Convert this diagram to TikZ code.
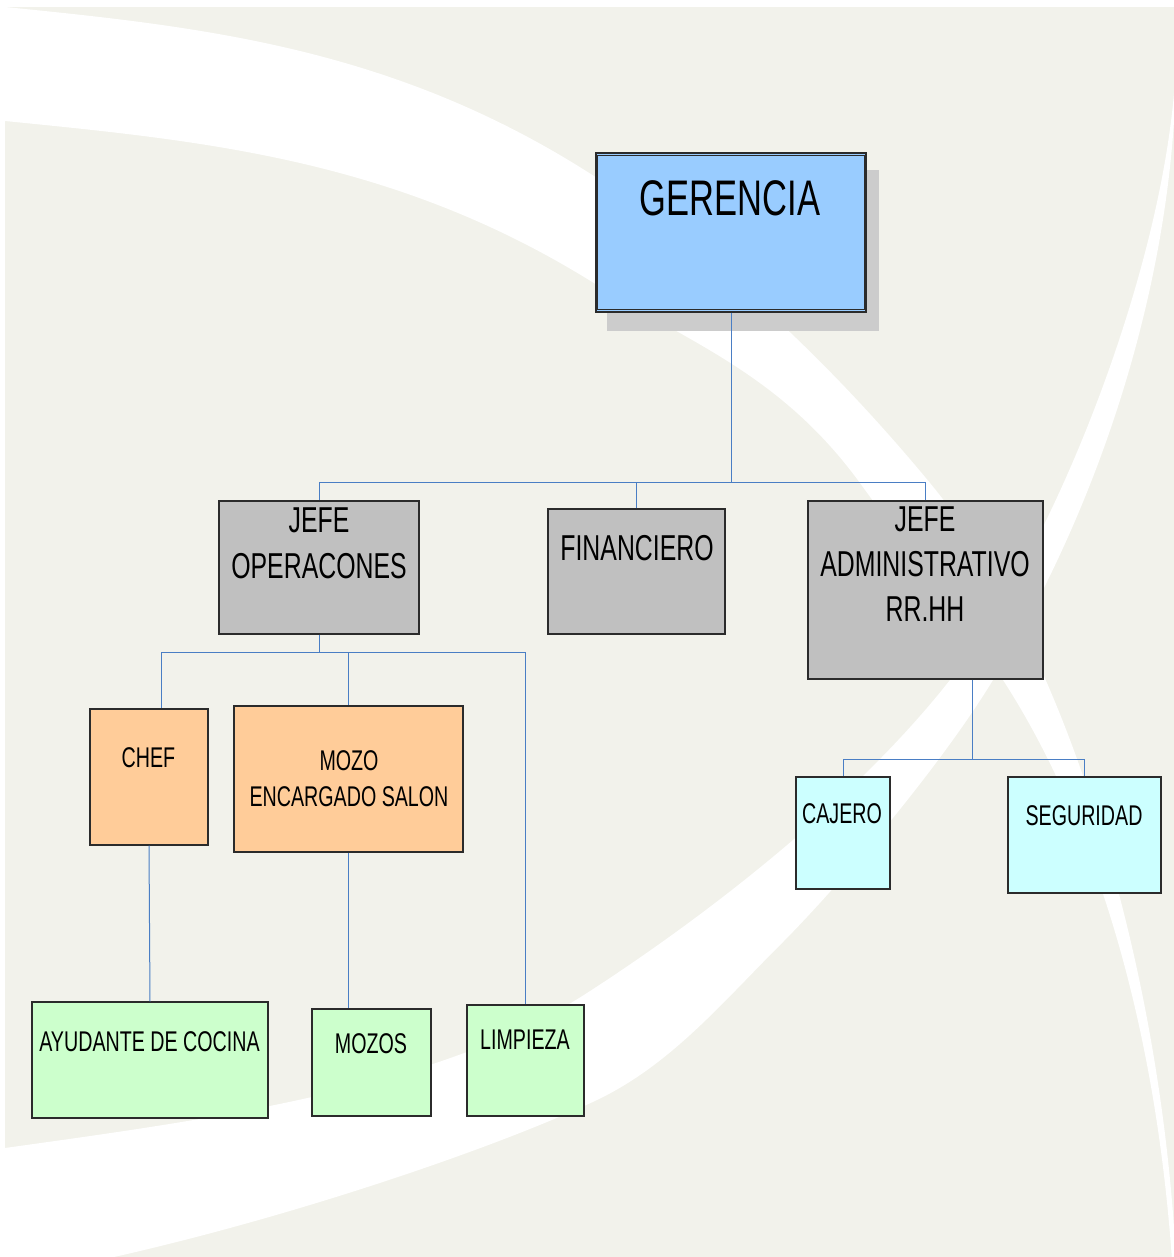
\documentclass[tikz,border=0pt]{standalone}
\usepackage{fontspec}
\setmainfont{Liberation Sans}[FakeStretch=0.69]
\definecolor{bgbeige}{HTML}{F2F2EB}
\definecolor{gerfill}{HTML}{99CCFF}
\definecolor{shadowc}{HTML}{CCCCCC}
\definecolor{grayfill}{HTML}{C0C0C0}
\definecolor{orangefill}{HTML}{FFCC99}
\definecolor{cyanfill}{HTML}{CCFFFF}
\definecolor{greenfill}{HTML}{CCFFCC}
\definecolor{connblue}{HTML}{4A7EC4}
\definecolor{boxline}{HTML}{2B2B2B}
\begin{document}
\begin{tikzpicture}[x=1pt,y=-1pt,
  box/.style={draw=boxline, line width=1.1pt, inner sep=0pt},
  lbl/.style={inner sep=0pt, align=center, anchor=north, text=black},
  big/.style={font=\fontsize{36}{45.5}\selectfont},
  small/.style={font=\fontsize{28.5}{36}\selectfont},
  conn/.style={draw=connblue, line width=1pt}]
\useasboundingbox (0,0) rectangle (1174,1257);
\fill[white] (0,0) rectangle (1174,1257);
\fill[bgbeige] (5,7) rectangle (1174,1257);
% white swoosh A (top left, sweeping down to the lower right)
\fill[white] (5,7) .. controls (205,27) and (397,48) .. (597,178)
  .. controls (707,250) and (820,350) .. (930,483)
  .. controls (1060,640) and (1160,950) .. (1176,1260)
  -- (1172,1260) .. controls (1150,950) and (1060,768) .. (1003,680)
  .. controls (953,603) and (920,566) .. (860,483)
  .. controls (780,373) and (687,342) .. (597,285)
  .. controls (397,159) and (205,141) .. (5,121) -- cycle;
% white swoosh B (bottom left, sweeping up to the top right)
\fill[white] (5,1148) .. controls (205,1120) and (437,1090) .. (587,993)
  .. controls (697,922) and (850,807) .. (950,680)
  .. controls (1060,540) and (1170,250) .. (1176,60)
  .. controls (1176,250) and (1115,480) .. (993,680)
  .. controls (940,767) and (840,885) .. (780,945)
  .. controls (720,1005) and (670,1065) .. (597,1100)
  .. controls (500,1146) and (300,1215) .. (114,1257)
  -- (5,1257) -- cycle;
% shadow of GERENCIA
\fill[shadowc] (607,170) rectangle (879,331);
% boxes
\node[box, fill=gerfill, minimum width=270pt, minimum height=159pt] (ger) at (731,232.5) {};
\draw[boxline, line width=1pt] ([xshift=2.5pt,yshift=-2.8pt]ger.north west) rectangle ([xshift=-2.5pt,yshift=2.8pt]ger.south east);
\node[box, fill=grayfill, minimum width=200pt, minimum height=133pt] (jop) at (319,567.5) {};
\node[box, fill=grayfill, minimum width=177pt, minimum height=125pt] (fin) at (636.5,571.5) {};
\node[box, fill=grayfill, minimum width=235pt, minimum height=178pt] (jad) at (925.5,590) {};
\node[box, fill=orangefill, minimum width=118pt, minimum height=136pt] (chef) at (149,777) {};
\node[box, fill=orangefill, minimum width=229pt, minimum height=146pt] (moz) at (348.5,779) {};
\node[box, fill=cyanfill, minimum width=94pt, minimum height=112pt] (caj) at (843,833) {};
\node[box, fill=cyanfill, minimum width=153pt, minimum height=116pt] (seg) at (1084.5,835) {};
\node[box, fill=greenfill, minimum width=236pt, minimum height=116pt] (ayu) at (150,1060) {};
\node[box, fill=greenfill, minimum width=119pt, minimum height=107pt] (mozs) at (371.5,1062.5) {};
\node[box, fill=greenfill, minimum width=117pt, minimum height=111pt] (lim) at (525.5,1060.5) {};
% labels
\node[lbl, font=\fontsize{50}{60}\selectfont] (tger) at (730,180) {GERENCIA};
\node[lbl, big] (tjop) at (319,508) {JEFE\\OPERACONES};
\node[lbl, big] (tfin) at (637,535) {FINANCIERO};
\node[lbl, font=\fontsize{36}{45}\selectfont] (tjad) at (925,507) {JEFE\\ADMINISTRATIVO\\RR.HH};
\node[lbl, small] (tchef) at (148.5,747) {CHEF};
\node[lbl, small] (tmoz) at (349,750) {MOZO\\ENCARGADO SALON};
\node[lbl, small] (tcaj) at (842,803) {CAJERO};
\node[lbl, small] (tseg) at (1084,805) {SEGURIDAD};
\node[lbl, small] (tayu) at (149.5,1031) {AYUDANTE DE COCINA};
\node[lbl, small] (tmozs) at (371,1033) {MOZOS};
\node[lbl, small] (tlim) at (525,1030) {LIMPIEZA};
% connectors
\coordinate (bus1) at (731,482.5);
\coordinate (bus2) at (319,652);
\coordinate (bus3) at (972,759);
\draw[conn] (ger.south) -- (bus1);
\draw[conn] (jop.north) |- (bus1);
\draw[conn] (fin.north) |- (bus1);
\draw[conn] (jad.north) |- (bus1);
\draw[conn] (jop.south) -- (bus2);
\draw[conn] (bus2) -| ([xshift=12pt]chef.north);
\draw[conn] (bus2) -| (moz.north);
\draw[conn] (bus2) -| (lim.north);
\draw[conn] (chef.south) -- (ayu.north);
\draw[conn] (moz.south) -- (moz.south |- mozs.north);
\draw[conn] (bus3 |- jad.south) -- (bus3);
\draw[conn] (bus3) -| (caj.north);
\draw[conn] (bus3) -| (seg.north);
\end{tikzpicture}
\end{document}
